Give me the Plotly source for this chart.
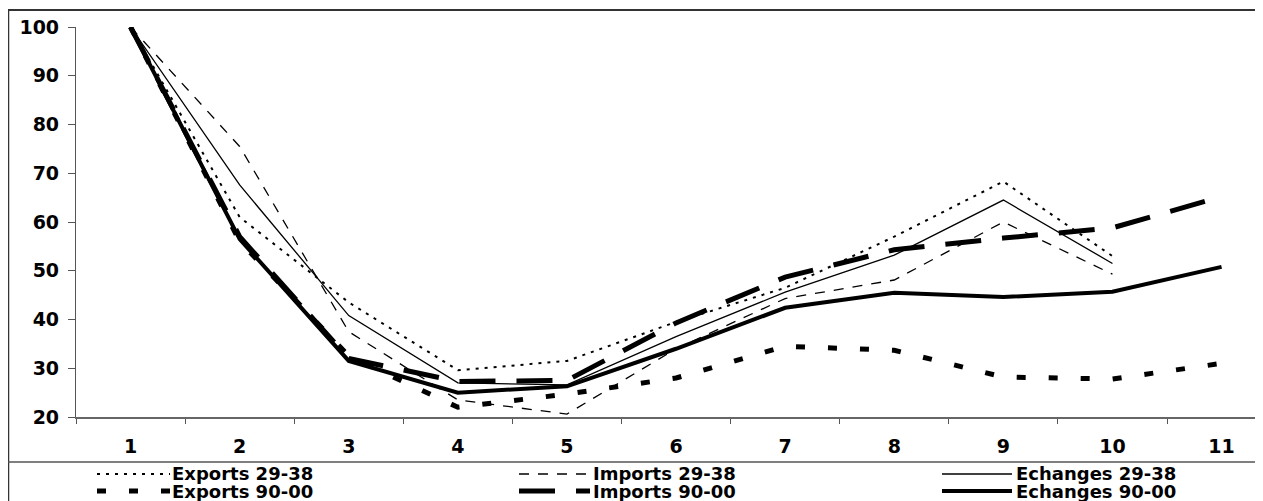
import plotly.graph_objects as go

# ---------------- data ----------------
categories = ["1", "2", "3", "4", "5", "6", "7", "8", "9", "10", "11"]

exports_29_38 = [100, 61, 43.5, 29.6, 31.5, 39.5, 46.5, 57, 68.3, 53, None]
imports_29_38 = [100, 75.5, 37.5, 23.5, 20.6, 34, 44.3, 48.1, 60, 49.3, None]
echanges_29_38 = [100, 67.6, 40.8, 27, 26.6, 36.5, 45.6, 53.2, 64.5, 51.5, None]
exports_90_00 = [100, 56, 32.5, 22, 24.7, 28, 34.5, 33.7, 28.2, 27.8, 31]
imports_90_00 = [100, 57, 32, 27.3, 27.5, 39.3, 48.7, 54.3, 56.7, 58.8, 65.2]
echanges_90_00 = [100, 56.5, 31.5, 25, 26.3, 34, 42.4, 45.5, 44.6, 45.7, 50.8]

series_names = ["Exports 29-38", "Imports 29-38", "Echanges 29-38",
                "Exports 90-00", "Imports 90-00", "Echanges 90-00"]
series_values = [exports_29_38, imports_29_38, echanges_29_38,
                 exports_90_00, imports_90_00, echanges_90_00]

y_ticks = [20, 30, 40, 50, 60, 70, 80, 90, 100]

# ---------------- styles ----------------
styles = [
    dict(width=2, dash="3px,6px"),
    dict(width=1.3, dash="10px,9px"),
    dict(width=1.3, dash="solid"),
    dict(width=5, dash="9px,23px"),
    dict(width=5, dash="36px,21px"),
    dict(width=4, dash="solid"),
]

OFF = 8  # page body margin
W, H = 1263 - OFF, 501 - OFF
ML, MT, MB = 76 - OFF, 27 - OFF, 84
PW = W - ML
PH = H - MT - MB
FONT = "DejaVu Sans"


def px(x):
    # x given in window pixels
    return (x - OFF - ML) / PW


def py(y):
    # y given in window pixels
    return (H - MB - (y - OFF)) / PH


fig = go.Figure()
for name, vals, st in zip(series_names, series_values, styles):
    fig.add_trace(go.Scatter(
        x=categories, y=vals, name=name, mode="lines",
        line=dict(color="black", width=st["width"], dash=st["dash"]),
        connectgaps=False, showlegend=False,
    ))

shapes = [
    # outer frame: top, left, legend separator
    dict(type="line", xref="paper", yref="paper", x0=px(8), x1=px(1270),
         y0=py(10), y1=py(10), line=dict(color="#333333", width=2)),
    dict(type="line", xref="paper", yref="paper", x0=px(8.5), x1=px(8.5),
         y0=py(10), y1=py(506), line=dict(color="#333333", width=1.5)),
    dict(type="line", xref="paper", yref="paper", x0=px(8), x1=px(1270),
         y0=py(462), y1=py(462), line=dict(color="#555555", width=1.5)),
]

annotations = []
# legend: 3 columns x 2 rows
col_sym_x = [(97, 170), (519, 590), (942, 1012)]
col_text_x = [171, 592, 1015]
row_y = [474, 491]
for i, (name, st) in enumerate(zip(series_names, styles)):
    r, c = divmod(i, 3)
    x0, x1 = col_sym_x[c]
    shapes.append(dict(type="line", xref="paper", yref="paper",
                       x0=px(x0), x1=px(x1), y0=py(row_y[r]), y1=py(row_y[r]),
                       line=dict(color="black", width=st["width"], dash=st["dash"])))
    annotations.append(dict(text=name, xref="paper", yref="paper",
                            x=px(col_text_x[c]), y=py(row_y[r]),
                            xanchor="left", yanchor="middle", showarrow=False,
                            borderpad=0,
                            font=dict(family=FONT, size=18, color="black", weight="bold")))

fig.update_layout(
    width=W, height=H,
    margin=dict(l=ML, r=0, t=MT, b=MB, pad=0),
    paper_bgcolor="white", plot_bgcolor="white",
    showlegend=False,
    shapes=shapes, annotations=annotations,
    xaxis=dict(
        type="category", categoryorder="array", categoryarray=categories,
        range=[-0.5, PW / 109.1 - 0.5],
        tickson="boundaries", ticks="outside", ticklen=5, tickcolor="#555555",
        showline=True, linecolor="#666666", linewidth=1.5,
        showgrid=False, zeroline=False,
        tickfont=dict(family=FONT, size=19, color="black", weight="bold"),
        ticklabelstandoff=11,
    ),
    yaxis=dict(
        range=[20, 100], tickvals=y_ticks,
        ticks="outside", ticklen=7, tickcolor="#555555",
        showline=True, linecolor="#555555", linewidth=1.2,
        showgrid=False, zeroline=False,
        tickfont=dict(family=FONT, size=19, color="black", weight="bold"),
        ticklabelstandoff=5,
    ),
)

fig.write_html("out.html")
